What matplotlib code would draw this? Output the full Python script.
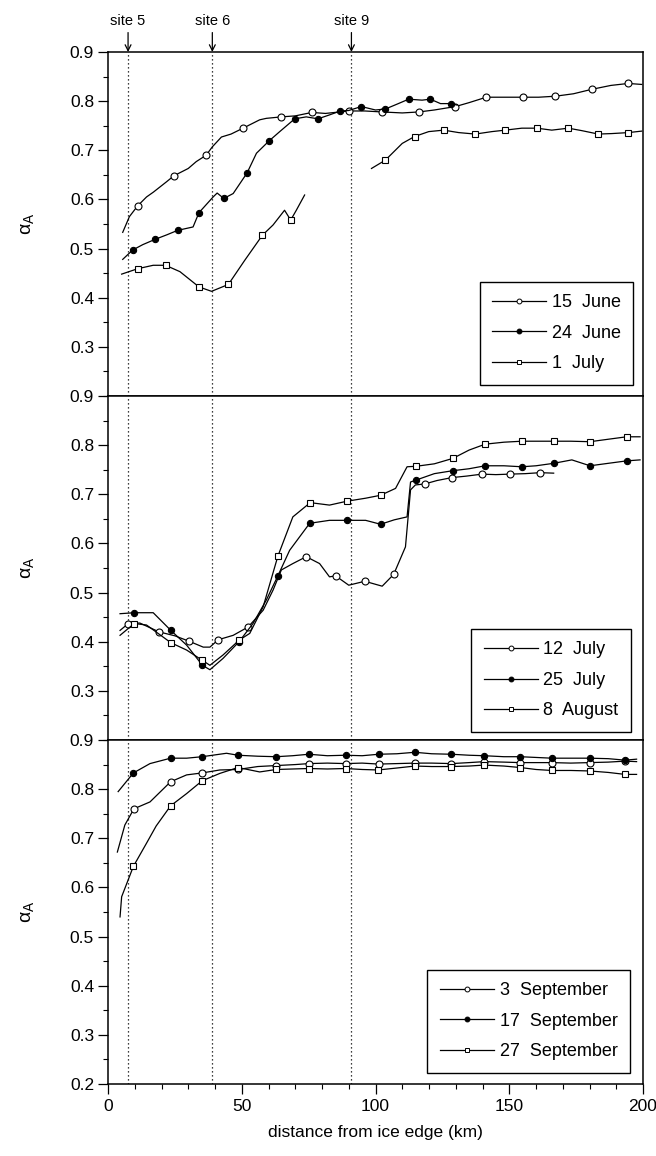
import numpy as np
import matplotlib
matplotlib.use('Agg')
import matplotlib.pyplot as plt
from matplotlib.lines import Line2D
from matplotlib.ticker import MultipleLocator

plt.rcParams['font.family'] = ['Liberation Sans', 'DejaVu Sans']
plt.rcParams['mathtext.fontset'] = 'custom'
plt.rcParams['mathtext.rm'] = 'Liberation Sans'
plt.rcParams['mathtext.it'] = 'Liberation Sans'

nan = float('nan')

# site positions (km from ice edge)
sites_x = [7.5, 39, 91]
sites_lbl = ['site 5', 'site 6', 'site 9']

# --- top panel ---
jun15_x = [5.5, 8, 11.1, 14.4, 17, 21.9, 24.6, 30, 33, 36.7, 39, 42.4, 46, 50.5, 56.7, 59.2, 64.8, 70,
           76.2, 81.3, 90, 96, 102.5, 110, 116.2, 122, 129.9, 135, 141.4, 148, 155.1, 161, 167.2, 174,
           180.8, 188, 194.5, 199.5]
jun15_y = [0.533, 0.565, 0.587, 0.605, 0.615, 0.636, 0.648, 0.663, 0.677, 0.690, 0.707, 0.727, 0.733, 0.745,
           0.762, 0.765, 0.768, 0.770, 0.777, 0.775, 0.780, 0.780, 0.778, 0.776, 0.778, 0.782, 0.789, 0.797,
           0.808, 0.808, 0.808, 0.808, 0.810, 0.815, 0.824, 0.832, 0.836, 0.834]
jun15_mk = [11.1, 24.6, 36.7, 50.5, 64.8, 76.2, 90, 102.5, 116.2, 129.9, 141.4, 155.1, 167.2, 180.8, 194.5]

jun24_x = [5.5, 9.2, 13, 17.7, 22, 26, 31.8, 34, 39.3, 40.8, 43.3, 46.8, 52, 55.5, 60.2, 64.2, 69.8, 74.1,
           78.5, 82.8, 86.9, 90, 94.7, 100, 103.7, 108.1, 112.4, 117.4, 120.5, 124.3, 128.2, 130.5]
jun24_y = [0.478, 0.497, 0.508, 0.519, 0.528, 0.537, 0.544, 0.573, 0.605, 0.613, 0.602, 0.612, 0.654, 0.694,
           0.719, 0.738, 0.764, 0.768, 0.764, 0.772, 0.780, 0.781, 0.789, 0.782, 0.784, 0.794, 0.804, 0.802,
           0.804, 0.795, 0.795, 0.792]
jun24_mk = [9.2, 17.7, 26, 34, 43.3, 52, 60.2, 69.8, 78.5, 86.9, 94.7, 103.7, 112.4, 120.5, 128.2]

jul1_x = [5.1, 11.1, 16.9, 21.5, 26.9, 34, 38.7, 45, 51.1, 57.7, 61.7, 66, 68.3, 70.4, 73.5, nan,
          98.5, 103.7, 110, 114.6, 119.9, 125.5, 131.1, 137.3, 143.5, 148.5, 154.7, 160.3, 165.9, 172.1,
          177.1, 183.3, 188.3, 194.5, 199.5]
jul1_y = [0.448, 0.459, 0.466, 0.466, 0.453, 0.422, 0.413, 0.427, 0.476, 0.527, 0.548, 0.578, 0.558, 0.578,
          0.609, nan, 0.663, 0.680, 0.714, 0.728, 0.738, 0.741, 0.736, 0.733, 0.738, 0.741, 0.745, 0.745,
          0.741, 0.745, 0.740, 0.733, 0.734, 0.736, 0.739]
jul1_mk = [11.1, 21.5, 34, 45, 57.7, 68.3, 103.7, 114.6, 125.5, 137.3, 148.5, 160.3, 172.1, 183.3, 194.5]

# --- middle panel ---
jul12_x = [4.5, 7.6, 11.9, 19.1, 25, 30.3, 35.6, 38.1, 41.2, 46.8, 52.4, 58, 61.7, 64.8, 69.1, 74.1, 79.1,
           82.8, 85.1, 90, 96, 102.5, 106.8, 111.2, 113.1, 114.9, 118.4, 123, 128.6, 134, 139.8, 145, 150.1,
           156, 161.6, 166.6]
jul12_y = [0.423, 0.437, 0.438, 0.420, 0.412, 0.401, 0.389, 0.389, 0.404, 0.413, 0.430, 0.464, 0.505, 0.546,
           0.559, 0.573, 0.559, 0.532, 0.534, 0.515, 0.523, 0.513, 0.537, 0.593, 0.709, 0.719, 0.721, 0.728,
           0.734, 0.737, 0.741, 0.740, 0.741, 0.742, 0.744, 0.743]
jul12_mk = [7.6, 19.1, 30.3, 41.2, 52.4, 74.1, 85.1, 96, 106.8, 118.4, 128.6, 139.8, 150.1, 161.6]

jul25_x = [4.5, 9.8, 16.9, 23.5, 29.4, 35.3, 38.1, 43, 49, 54.2, 59.2, 63.5, 67.9, 75.4, 82.8, 89.4, 96.3,
           101.9, 107, 111.8, 113.1, 115.2, 122, 128.9, 135, 141, 148, 154.7, 160, 166.6, 173.4, 180.2, 187,
           193.9, 198.9]
jul25_y = [0.457, 0.459, 0.459, 0.423, 0.393, 0.352, 0.343, 0.366, 0.400, 0.437, 0.485, 0.534, 0.586, 0.641,
           0.647, 0.647, 0.647, 0.639, 0.648, 0.654, 0.725, 0.729, 0.742, 0.748, 0.752, 0.758, 0.758, 0.756,
           0.758, 0.763, 0.770, 0.758, 0.763, 0.768, 0.770]
jul25_mk = [9.8, 23.5, 35.3, 49, 63.5, 75.4, 89.4, 101.9, 115.2, 128.9, 141, 154.7, 166.6, 180.2, 193.9]

aug8_x = [4.5, 9.8, 14.4, 23.5, 29.4, 35.3, 38.1, 43, 49, 53, 58, 63.5, 69.1, 75.6, 82.8, 89.4, 96.3, 101.9,
          107.5, 111.8, 115.2, 122, 128.9, 135, 141, 148, 154.7, 160, 166.6, 173, 180.2, 187, 193.9, 198.9]
aug8_y = [0.413, 0.437, 0.434, 0.398, 0.383, 0.362, 0.352, 0.373, 0.403, 0.417, 0.471, 0.574, 0.654, 0.683,
          0.678, 0.686, 0.692, 0.698, 0.712, 0.756, 0.757, 0.762, 0.773, 0.790, 0.802, 0.806, 0.808, 0.808,
          0.808, 0.808, 0.807, 0.812, 0.817, 0.817]
aug8_mk = [9.8, 23.5, 35.3, 49, 63.5, 75.6, 89.4, 101.9, 115.2, 128.9, 141, 154.7, 166.6, 180.2, 193.9]

# --- bottom panel ---
sep3_x = [3.5, 6.3, 9.7, 15.7, 23.4, 29.4, 35.2, 41.8, 48.6, 56, 62.9, 70, 75.1, 82, 88.8, 95, 101.2, 108,
          114.7, 121, 128.4, 135, 140.7, 148, 154.1, 160, 165.9, 173, 180, 187, 193.3, 197.6]
sep3_y = [0.672, 0.727, 0.760, 0.774, 0.815, 0.829, 0.833, 0.839, 0.840, 0.846, 0.848, 0.850, 0.852, 0.853,
          0.852, 0.853, 0.851, 0.852, 0.853, 0.853, 0.852, 0.854, 0.856, 0.855, 0.854, 0.854, 0.854, 0.853,
          0.854, 0.855, 0.857, 0.856]
sep3_mk = [9.7, 23.4, 35.2, 48.6, 62.9, 75.1, 88.8, 101.2, 114.7, 128.4, 140.7, 154.1, 165.9, 180, 193.3]

sep17_x = [3.8, 9.5, 15.7, 23.4, 29.4, 35.2, 44.3, 48.6, 56, 62.9, 69, 75.1, 82, 88.8, 95, 101.2, 108, 114.7,
           121, 128.4, 135, 140.7, 148, 154.1, 165.9, 173, 180, 187, 193.3, 197.6]
sep17_y = [0.795, 0.833, 0.852, 0.863, 0.863, 0.866, 0.873, 0.869, 0.867, 0.866, 0.868, 0.871, 0.868, 0.869,
           0.868, 0.871, 0.872, 0.875, 0.872, 0.871, 0.869, 0.868, 0.866, 0.866, 0.863, 0.863, 0.863, 0.862,
           0.859, 0.861]
sep17_mk = [9.5, 23.4, 35.2, 48.6, 62.9, 75.1, 88.8, 101.2, 114.7, 128.4, 140.7, 154.1, 165.9, 180, 193.3]

sep27_x = [4.5, 5.1, 9.5, 14.4, 18, 23.4, 29.4, 35.2, 41.8, 48.6, 56.7, 62.9, 69, 75.1, 82, 88.8, 95, 101,
           108, 114.7, 121, 128.4, 135, 140.7, 148, 154.1, 160, 165.9, 173, 180, 187, 193.3, 197.6]
sep27_y = [0.540, 0.581, 0.643, 0.690, 0.725, 0.766, 0.791, 0.817, 0.832, 0.844, 0.835, 0.840, 0.841, 0.842,
           0.841, 0.842, 0.840, 0.839, 0.843, 0.847, 0.846, 0.846, 0.847, 0.849, 0.847, 0.844, 0.840, 0.838,
           0.838, 0.837, 0.834, 0.830, 0.830]
sep27_mk = [9.5, 23.4, 35.2, 48.6, 62.9, 75.1, 88.8, 101, 114.7, 128.4, 140.7, 154.1, 165.9, 180, 193.3]

panels = [
    [(jun15_x, jun15_y, jun15_mk, 'o', 'white', '15  June'),
     (jun24_x, jun24_y, jun24_mk, 'o', 'black', '24  June'),
     (jul1_x, jul1_y, jul1_mk, 's', 'white', '1  July')],
    [(jul12_x, jul12_y, jul12_mk, 'o', 'white', '12  July'),
     (jul25_x, jul25_y, jul25_mk, 'o', 'black', '25  July'),
     (aug8_x, aug8_y, aug8_mk, 's', 'white', '8  August')],
    [(sep3_x, sep3_y, sep3_mk, 'o', 'white', '3  September'),
     (sep17_x, sep17_y, sep17_mk, 'o', 'black', '17  September'),
     (sep27_x, sep27_y, sep27_mk, 's', 'white', '27  September')],
]
legend_anchor = [(0.982, 0.032), (0.978, 0.023), (0.976, 0.032)]

W, H = 656, 1156
fig = plt.figure(figsize=(W / 100, H / 100), dpi=100)
left, right = 108, 643
tops = [52, 396, 740]
ph = 344

axes = []
for i, series in enumerate(panels):
    ax = fig.add_axes([left / W, 1 - (tops[i] + ph) / H, (right - left) / W, ph / H])
    axes.append(ax)
    handles = []
    for xs, ys, mk, m, fc, lbl in series:
        idx = [k for k, v in enumerate(xs) if v in mk]
        ms = 5 if m == 'o' else 5
        if fc == 'black':
            ms = 4.5
        ax.plot(xs, ys, color='black', lw=0.9, marker=m, markevery=idx, ms=ms,
                mfc=fc, mec='black', mew=0.8, zorder=3)
        handles.append(Line2D([], [], color='black', lw=0.9, marker=m, ms=3.5,
                              mfc=fc, mec='black', mew=0.7, label=lbl))
    for sx in sites_x:
        ax.axvline(sx, color='black', lw=0.9, ls=(0, (1, 2.2)), zorder=1)
    ax.set_xlim(0, 200)
    ax.set_ylim(0.2, 0.9)
    if i < 2:
        ax.set_yticks(np.arange(0.3, 0.91, 0.1))
    else:
        ax.set_yticks(np.arange(0.2, 0.91, 0.1))
    ax.yaxis.set_minor_locator(MultipleLocator(0.05))
    ax.set_yticklabels(['%.1f' % v for v in ax.get_yticks()])
    ax.tick_params(axis='y', which='major', direction='out', length=7, width=0.9,
                   labelsize=12.5, pad=3)
    ax.tick_params(axis='y', which='minor', direction='out', length=3.5, width=0.8)
    ax.set_ylabel(r'$\alpha_A$', fontsize=14)
    ax.yaxis.set_label_coords(-0.135, 0.5)
    for sp in ax.spines.values():
        sp.set_linewidth(1.1)
    if i < 2:
        ax.tick_params(axis='x', which='both', bottom=False, labelbottom=False)
    else:
        ax.set_xticks([0, 50, 100, 150, 200])
        ax.xaxis.set_minor_locator(MultipleLocator(10))
        ax.tick_params(axis='x', which='major', direction='out', length=7, width=0.9,
                       labelsize=12.5, pad=4)
        ax.tick_params(axis='x', which='minor', direction='out', length=3.5, width=0.8)
        ax.set_xlabel('distance from ice edge (km)', fontsize=12.5, labelpad=8)
    leg = ax.legend(handles=handles, loc='lower right', bbox_to_anchor=legend_anchor[i],
                    borderaxespad=0, fontsize=13, handlelength=3.0, handletextpad=0.3,
                    labelspacing=0.75, borderpad=0.7, fancybox=False, framealpha=1,
                    edgecolor='black', numpoints=1)
    leg.get_frame().set_linewidth(1.0)

# site labels with arrows above the top panel
for sx, lbl in zip(sites_x, sites_lbl):
    axes[0].annotate(lbl, xy=(sx, 0.9), xytext=(0, 17), textcoords='offset points',
                     ha='center', va='bottom', fontsize=10.5,
                     arrowprops=dict(arrowstyle='->', lw=0.9, color='black',
                                     shrinkA=1, shrinkB=0))

fig.savefig('out.png', dpi=100)
